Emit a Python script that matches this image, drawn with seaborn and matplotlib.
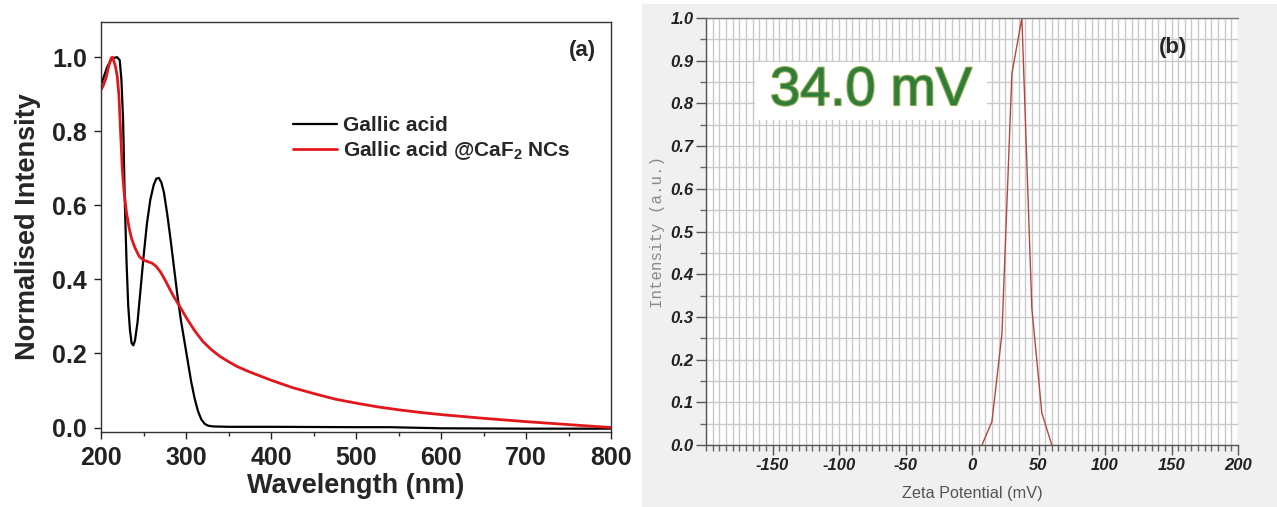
import numpy as np
import pandas as pd
import matplotlib
matplotlib.use("Agg")
import matplotlib.pyplot as plt
from matplotlib.patches import Rectangle
from matplotlib.ticker import MultipleLocator
import matplotlib.patheffects as pe
import seaborn as sns

# ---------------- data ----------------
ga_wl = [200, 203, 207, 211, 215, 219, 222, 224, 226, 228, 230, 232, 234, 236, 238, 240,
         243, 246, 250, 254, 258, 262, 265, 268, 271, 274, 278, 282, 286, 290, 294, 298,
         302, 306, 310, 314, 318, 322, 326, 332, 350, 400, 500, 540, 600, 700, 800]
ga_int = [0.925, 0.945, 0.972, 0.99, 0.998, 1.0, 0.992, 0.94, 0.83, 0.61, 0.45, 0.33, 0.265,
          0.228, 0.222, 0.235, 0.285, 0.36, 0.46, 0.55, 0.615, 0.655, 0.672, 0.674, 0.662,
          0.635, 0.575, 0.505, 0.43, 0.355, 0.29, 0.235, 0.18, 0.125, 0.08, 0.045, 0.022,
          0.01, 0.005, 0.003, 0.002, 0.002, 0.001, 0.001, -0.002, -0.003, -0.003]

caf_wl = [200, 203, 206, 209, 212, 213.5, 215, 217, 219, 221, 223, 225, 227, 230, 233, 236,
          240, 245, 250, 255, 260, 265, 270, 275, 280, 285, 290, 295, 300, 310, 320, 330,
          340, 350, 360, 375, 400, 425, 450, 475, 500, 525, 550, 575, 600, 650, 700, 750, 800]
caf_int = [0.912, 0.925, 0.945, 0.975, 0.998, 1.0, 0.99, 0.975, 0.95, 0.90, 0.80, 0.70, 0.64,
           0.58, 0.54, 0.51, 0.485, 0.462, 0.452, 0.448, 0.444, 0.435, 0.42, 0.40, 0.378,
           0.356, 0.337, 0.318, 0.298, 0.262, 0.232, 0.21, 0.192, 0.178, 0.165, 0.15, 0.128,
           0.108, 0.092, 0.077, 0.066, 0.056, 0.048, 0.041, 0.035, 0.025, 0.016, 0.008, 0.0]

zeta_mv = [7.5, 15, 22.5, 30, 37.5, 45, 52.5, 60]
zeta_int = [0.0, 0.055, 0.26, 0.87, 1.0, 0.32, 0.075, 0.0]

a_xticks = [200, 300, 400, 500, 600, 700, 800]
a_yticks = [0.0, 0.2, 0.4, 0.6, 0.8, 1.0]
b_xticks = [-150, -100, -50, 0, 50, 100, 150, 200]
b_yticks = [0.0, 0.1, 0.2, 0.3, 0.4, 0.5, 0.6, 0.7, 0.8, 0.9, 1.0]

legend_labels = ["Gallic acid", r"Gallic acid @CaF$_{\mathbf{2}}$ NCs"]

# ---------------- style ----------------
sns.set_style("ticks")
plt.rcParams['font.family'] = ['Liberation Sans', 'DejaVu Sans']
plt.rcParams['mathtext.fontset'] = 'custom'
plt.rcParams['mathtext.rm'] = 'Liberation Sans'
plt.rcParams['mathtext.bf'] = 'Liberation Sans:bold'

fig = plt.figure(figsize=(12.77, 5.07), dpi=100)
fig.patch.set_facecolor('white')

# grey background of panel (b)
fig.patches.append(Rectangle((642 / 1277, 0), 1 - 642 / 1277, 1 - 4 / 507,
                             transform=fig.transFigure, facecolor='#f0f0f0',
                             edgecolor='none', zorder=-10))

# ---------------- panel (a) ----------------
axa = fig.add_axes([101 / 1277, 1 - 432 / 507, (611 - 101) / 1277, (432 - 22) / 507])
dfa = pd.DataFrame({'wl': ga_wl, 'val': ga_int})
dfb = pd.DataFrame({'wl': caf_wl, 'val': caf_int})
sns.lineplot(data=dfa, x='wl', y='val', ax=axa, color='black', lw=1.6,
             label=legend_labels[0], sort=False)
sns.lineplot(data=dfb, x='wl', y='val', ax=axa, color='#e3171b', lw=2.0,
             label=legend_labels[1], sort=False)
axa.set_xlim(200, 800)
axa.set_ylim(-0.012, 1.095)
axa.set_xticks(a_xticks)
axa.set_yticks(a_yticks)
axa.xaxis.set_minor_locator(MultipleLocator(50))
axa.set_xticklabels([str(v) for v in a_xticks])
axa.set_yticklabels([f"{v:.1f}" for v in a_yticks])
for lab in axa.get_xticklabels() + axa.get_yticklabels():
    lab.set_fontweight('bold')
    lab.set_fontsize(18)
axa.tick_params(axis='both', which='major', direction='out', length=5, width=1, pad=5,
                colors='#222222')
axa.tick_params(axis='x', which='minor', direction='out', length=3, width=1)
for s in axa.spines.values():
    s.set_visible(True)
    s.set_linewidth(1.0)
    s.set_color('#333333')
axa.set_xlabel("Wavelength (nm)", fontsize=19.5, fontweight='bold', labelpad=2)
axa.set_ylabel("Normalised Intensity", fontsize=19.5, fontweight='bold', labelpad=8)
leg = axa.legend(loc='upper left', bbox_to_anchor=(293 / 1277, 1 - 116 / 507),
                 bbox_transform=fig.transFigure, frameon=False,
                 prop={'weight': 'bold', 'size': 15}, handlelength=2.1,
                 handletextpad=0.3, labelspacing=0.2, borderpad=0, borderaxespad=0)
axa.text(0.97, 0.955, "(a)", transform=axa.transAxes, ha='right', va='top',
         fontsize=16, fontweight='bold')

# ---------------- panel (b) ----------------
axb = fig.add_axes([706 / 1277, 1 - 445 / 507, (1238 - 706) / 1277, (445 - 18) / 507])
axb.set_facecolor('white')
dfz = pd.DataFrame({'mv': zeta_mv, 'val': zeta_int})
sns.lineplot(data=dfz, x='mv', y='val', ax=axb, color='#b5473a', lw=1.0, sort=False)
axb.set_xlim(-200, 200)
axb.set_ylim(0, 1.0)
axb.set_xticks(b_xticks)
axb.set_yticks(b_yticks)
axb.xaxis.set_minor_locator(MultipleLocator(5))
axb.yaxis.set_minor_locator(MultipleLocator(0.05))
axb.set_xticklabels([str(v) for v in b_xticks])
axb.set_yticklabels([f"{v:.1f}" for v in b_yticks])
for lab in axb.get_xticklabels() + axb.get_yticklabels():
    lab.set_fontweight('bold')
    lab.set_fontstyle('italic')
    lab.set_fontsize(12)
axb.grid(True, which='both', color='#c9c9c9', lw=1.0)
axb.set_axisbelow(True)
axb.tick_params(axis='both', which='major', direction='out', length=7, width=1,
                colors='#555555', pad=2)
axb.tick_params(axis='both', which='minor', direction='out', length=4, width=1,
                colors='#666666')
for lab in axb.get_xticklabels() + axb.get_yticklabels():
    lab.set_color('#222222')
axb.spines['right'].set_visible(False)
axb.spines['top'].set_visible(True)
for k in ['left', 'bottom', 'top']:
    axb.spines[k].set_color('#555555')
    axb.spines[k].set_linewidth(1.0)
axb.spines['top'].set_color('#777777')
axb.set_xlabel("Zeta Potential (mV)", fontsize=11.7, color='#555555', labelpad=10)
axb.set_ylabel("Intensity (a.u.)", fontsize=11.3, color='#8a8a8a',
               family=['Liberation Mono', 'DejaVu Sans Mono'], labelpad=4)

# "34.0 mV" label box
x0 = (755 - 706) / (1238 - 706)
x1 = (987 - 706) / (1238 - 706)
y1 = 1 - (62 - 18) / (445 - 18)
y0 = 1 - (120 - 18) / (445 - 18)
axb.add_patch(Rectangle((x0, y0), x1 - x0, y1 - y0, transform=axb.transAxes,
                        facecolor='white', edgecolor='none', zorder=3))
axb.text((x0 + x1) / 2, (y0 + y1) / 2, "34.0 mV", transform=axb.transAxes,
         ha='center', va='center', fontsize=39, color='#2f7d3a', zorder=4,
         path_effects=[pe.withStroke(linewidth=1.6, foreground='#8fa84a')])
axb.text(0.905, 0.955, "(b)", transform=axb.transAxes, ha='right', va='top',
         fontsize=16, fontweight='bold', zorder=4)

fig.savefig("out.png", dpi=100, facecolor=fig.get_facecolor())
